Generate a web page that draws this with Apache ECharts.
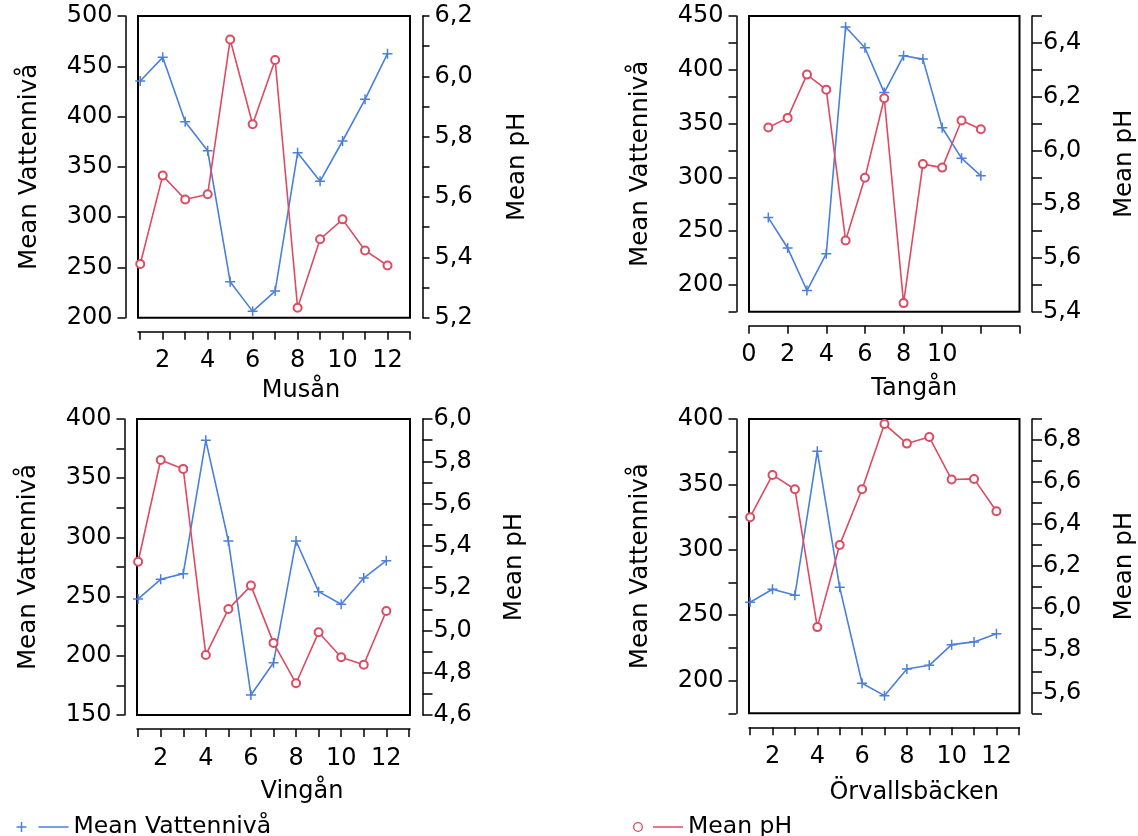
<!DOCTYPE html>
<html><head><meta charset="utf-8">
<script src="https://cdn.jsdelivr.net/npm/echarts@6/dist/echarts.min.js"></script>
<style>html,body{margin:0;padding:0;background:#fff}#c{width:1138px;height:836px}</style>
</head><body><div id="c"></div>
<script>
// ---------- DATA ----------
const months = [1, 2, 3, 4, 5, 6, 7, 8, 9, 10, 11, 12];
const panelNames = ['Musån', 'Tangån', 'Vingån', 'Örvallsbäcken'];
const levelName = 'Mean Vattennivå';
const phName = 'Mean pH';

const musanLevel = [435.4, 458.9, 394.9, 366.0, 235.8, 206.3, 226.5, 364.0, 335.6, 375.7, 417.1, 462.5];
const musanPH = [5.378, 5.671, 5.592, 5.609, 6.122, 5.841, 6.054, 5.233, 5.460, 5.526, 5.423, 5.373];
const tanganLevel = [262.5, 234.2, 194.7, 228.9, 439.7, 420.5, 378.8, 413.0, 409.9, 346.1, 317.8, 301.4];
const tanganPH = [6.085, 6.121, 6.282, 6.226, 5.665, 5.898, 6.194, 5.432, 5.949, 5.936, 6.111, 6.079];
const vinganLevel = [248.0, 264.6, 269.4, 382.0, 297.0, 166.9, 194.2, 297.0, 254.2, 243.5, 265.7, 280.3];
const vinganPH = [5.325, 5.806, 5.764, 4.884, 5.101, 5.212, 4.941, 4.750, 4.991, 4.873, 4.838, 5.092];
const orvallsLevel = [259.9, 269.8, 265.2, 375.3, 271.3, 198.0, 188.5, 208.9, 211.7, 227.5, 229.6, 235.9];
const orvallsPH = [6.433, 6.634, 6.566, 5.910, 6.301, 6.566, 6.876, 6.783, 6.814, 6.612, 6.615, 6.461];

// tick values / tick labels
const monthTicks = [1, 2, 3, 4, 5, 6, 7, 8, 9, 10, 11, 12, 13];
const monthLabels = [2, 4, 6, 8, 10, 12];
const tanganMonthTicks = [0, 2, 4, 6, 8, 10, 12, 14];
const tanganMonthLabels = [0, 2, 4, 6, 8, 10];

const musanLevelTicks = [200, 250, 300, 350, 400, 450, 500];
const musanLevelLabels = [200, 250, 300, 350, 400, 450, 500];
const musanPHTicks = [5.2, 5.3, 5.4, 5.5, 5.6, 5.7, 5.8, 5.9, 6.0, 6.1, 6.2];
const musanPHLabels = [5.2, 5.4, 5.6, 5.8, 6.0, 6.2];

const tanganLevelTicks = [175, 200, 225, 250, 275, 300, 325, 350, 375, 400, 425, 450];
const tanganLevelLabels = [200, 250, 300, 350, 400, 450];
const tanganPHTicks = [5.4, 5.5, 5.6, 5.7, 5.8, 5.9, 6.0, 6.1, 6.2, 6.3, 6.4, 6.5];
const tanganPHLabels = [5.4, 5.6, 5.8, 6.0, 6.2, 6.4];

const vinganLevelTicks = [150, 175, 200, 225, 250, 275, 300, 325, 350, 375, 400];
const vinganLevelLabels = [150, 200, 250, 300, 350, 400];
const vinganPHTicks = [4.6, 4.7, 4.8, 4.9, 5.0, 5.1, 5.2, 5.3, 5.4, 5.5, 5.6, 5.7, 5.8, 5.9, 6.0];
const vinganPHLabels = [4.6, 4.8, 5.0, 5.2, 5.4, 5.6, 5.8, 6.0];

const orvallsLevelTicks = [175, 200, 225, 250, 275, 300, 325, 350, 375, 400];
const orvallsLevelLabels = [200, 250, 300, 350, 400];
const orvallsPHTicks = [5.5, 5.6, 5.7, 5.8, 5.9, 6.0, 6.1, 6.2, 6.3, 6.4, 6.5, 6.6, 6.7, 6.8, 6.9];
const orvallsPHLabels = [5.6, 5.8, 6.0, 6.2, 6.4, 6.6, 6.8];

// ---------- STYLE / LAYOUT ----------
const BLUE = '#4a7fdb';
const RED = '#dc4b62';
const FONT = 'DejaVu Sans';
const PLUS = 'path://M4.25,0H5.75V10H4.25Z M0,4.25H10V5.75H0Z';

const panels = [
  { name: panelNames[0], level: musanLevel, ph: musanPH,
    xMin: 0.9, xMax: 13, xTicks: monthTicks, xLabels: monthLabels,
    lMin: 200, lMax: 500, lTicks: musanLevelTicks, lLabels: musanLevelLabels,
    pMin: 5.2, pMax: 6.2, pTicks: musanPHTicks, pLabels: musanPHLabels,
    grid: { left: 138, top: 16, width: 272, height: 301.7 },
    xNameGap: 47, xShift: 27, xMargin: 17, lGap: 83, pGap: 83, pTick: 7, pMargin: 12 },
  { name: panelNames[1], level: tanganLevel, ph: tanganPH,
    xMin: 0, xMax: 14, xTicks: tanganMonthTicks, xLabels: tanganMonthLabels,
    lMin: 175, lMax: 450, lTicks: tanganLevelTicks, lLabels: tanganLevelLabels,
    pMin: 5.4, pMax: 6.5, pTicks: tanganPHTicks, pLabels: tanganPHLabels,
    grid: { left: 749, top: 16, width: 272, height: 295.7 },
    xNameGap: 51, xShift: 30, xMargin: 17, lGap: 83, pGap: 80, pTick: 10, pMargin: 11 },
  { name: panelNames[2], level: vinganLevel, ph: vinganPH,
    xMin: 0.95, xMax: 13.05, xTicks: monthTicks, xLabels: monthLabels,
    lMin: 150, lMax: 400, lTicks: vinganLevelTicks, lLabels: vinganLevelLabels,
    pMin: 4.6, pMax: 6.0, pTicks: vinganPHTicks, pLabels: vinganPHLabels,
    grid: { left: 137, top: 419, width: 273, height: 296 },
    xNameGap: 51, xShift: 28.5, xMargin: 18, lGap: 83, pGap: 80, pTick: 10, pMargin: 11 },
  { name: panelNames[3], level: orvallsLevel, ph: orvallsPH,
    xMin: 0.95, xMax: 13.03, xTicks: monthTicks, xLabels: monthLabels,
    lMin: 175, lMax: 400, lTicks: orvallsLevelTicks, lLabels: orvallsLevelLabels,
    pMin: 5.5, pMax: 6.9, pTicks: orvallsPHTicks, pLabels: orvallsPHLabels,
    grid: { left: 749, top: 419, width: 272, height: 294.3 },
    xNameGap: 53, xShift: 30, xMargin: 17, lGap: 83, pGap: 80, pTick: 10, pMargin: 11 }
];

const axisLine = { show: true, onZero: false, lineStyle: { color: '#000', width: 1.5 } };
const labelStyle = { color: '#000', fontSize: 24, fontFamily: FONT };
const nameStyle = { color: '#000', fontSize: 24.5, fontFamily: FONT };

const grids = [], xAxes = [], yAxes = [], series = [];
panels.forEach((p, i) => {
  grids.push(Object.assign({ show: true, borderColor: '#000', borderWidth: 2, backgroundColor: 'transparent' }, p.grid));
  xAxes.push({
    gridIndex: i, type: 'value', min: p.xMin, max: p.xMax, position: 'bottom', offset: 14,
    axisLine: axisLine,
    axisTick: { show: true, length: 8, customValues: p.xTicks, lineStyle: { color: '#000', width: 1.5 } },
    axisLabel: Object.assign({ customValues: p.xLabels, margin: p.xMargin }, labelStyle),
    splitLine: { show: false },
    name: p.name, nameLocation: 'middle', nameGap: p.xNameGap,
    nameTextStyle: Object.assign({ padding: [0, 0, 0, p.xShift * 2] }, nameStyle, { fontSize: 24 })
  });
  yAxes.push({
    gridIndex: i, type: 'value', min: p.lMin, max: p.lMax, position: 'left', offset: 12.5,
    axisLine: axisLine,
    axisTick: { show: true, length: 8, customValues: p.lTicks, lineStyle: { color: '#000', width: 1.5 } },
    axisLabel: Object.assign({ customValues: p.lLabels, margin: 13 }, labelStyle),
    splitLine: { show: false },
    name: levelName, nameLocation: 'middle', nameRotate: 90, nameGap: p.lGap, nameTextStyle: nameStyle
  });
  yAxes.push({
    gridIndex: i, type: 'value', min: p.pMin, max: p.pMax, position: 'right', offset: 12.5,
    axisLine: axisLine,
    axisTick: { show: true, length: p.pTick, customValues: p.pTicks, lineStyle: { color: '#000', width: 1.5 } },
    axisLabel: Object.assign({ customValues: p.pLabels, margin: p.pMargin,
      formatter: v => Number(v).toFixed(1).replace('.', ',') }, labelStyle),
    splitLine: { show: false },
    name: phName, nameLocation: 'middle', nameRotate: 90, nameGap: p.pGap, nameTextStyle: nameStyle
  });
  series.push({
    name: levelName, type: 'line', xAxisIndex: i, yAxisIndex: i * 2,
    data: months.map((m, k) => [m, p.level[k]]),
    symbol: PLUS, symbolSize: 10, showSymbol: true,
    itemStyle: { color: BLUE }, lineStyle: { color: BLUE, width: 1.6 }, z: 2
  });
  series.push({
    name: phName, type: 'line', xAxisIndex: i, yAxisIndex: i * 2 + 1,
    data: months.map((m, k) => [m, p.ph[k]]),
    symbol: 'emptyCircle', symbolSize: 8, showSymbol: true,
    itemStyle: { color: RED, borderWidth: 1.4 }, lineStyle: { color: RED, width: 1.6 }, z: 3
  });
});

const legendText = { color: '#000', fontSize: 23.5, fontFamily: FONT };
const option = {
  animation: false,
  backgroundColor: '#fff',
  grid: grids, xAxis: xAxes, yAxis: yAxes, series: series,
  legend: [
    { data: [levelName], left: 16.5, top: 815, padding: 0, itemWidth: 52, itemHeight: 10,
      icon: 'path://M4.25,0H5.75V10H4.25Z M0,4.25H10V5.75H0Z M22,4.25H52V5.75H22Z',
      itemStyle: { color: BLUE, borderWidth: 0 }, textStyle: legendText, selectedMode: false },
    { data: [phName], left: 633, top: 815, padding: 0, itemWidth: 50, itemHeight: 10,
      icon: 'path://M0,5A5,5,0,1,0,10,5A5,5,0,1,0,0,5Z M1.3,5A3.7,3.7,0,1,1,8.7,5A3.7,3.7,0,1,1,1.3,5Z M20,4.25H50V5.75H20Z',
      itemStyle: { color: RED, borderWidth: 0 }, textStyle: legendText, selectedMode: false }
  ]
};
const chart = echarts.init(document.getElementById('c'), null, { renderer: 'canvas' });
chart.setOption(option);
</script></body></html>
